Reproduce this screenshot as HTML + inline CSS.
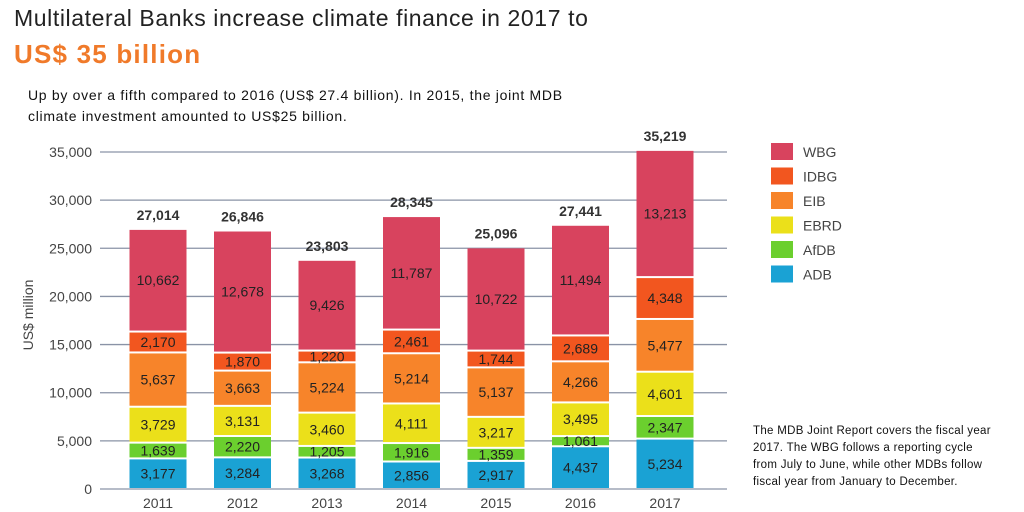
<!DOCTYPE html>
<html><head><meta charset="utf-8"><style>
body{margin:0;width:1024px;height:512px;background:#fff;overflow:hidden;font-family:"Liberation Sans",sans-serif;position:relative}
.t1{position:absolute;left:14px;top:5px;font-size:23px;letter-spacing:0.6px;color:#222}
.t2{position:absolute;left:14px;top:39px;font-size:26px;font-weight:bold;letter-spacing:1.2px;color:#f07a2a}
.sub{position:absolute;left:28px;top:85px;font-size:14px;letter-spacing:0.7px;line-height:21px;color:#111;white-space:nowrap}
.note{position:absolute;left:753px;top:423px;font-size:11.5px;letter-spacing:0.3px;line-height:17px;color:#111;white-space:nowrap}
</style></head><body>
<div class="t1">Multilateral Banks increase climate finance in 2017 to</div>
<div class="t2">US$ 35 billion</div>
<div class="sub">Up by over a fifth compared to 2016 (US$ 27.4 billion). In 2015, the joint MDB<br>climate investment amounted to US$25 billion.</div>
<div class="note">The MDB Joint Report covers the fiscal year<br>2017. The WBG follows a reporting cycle<br>from July to June, while other MDBs follow<br>fiscal year from January to December.</div>
<svg id="chart" width="1024" height="512" style="position:absolute;left:0;top:0"></svg>
<script>
const years=["2011","2012","2013","2014","2015","2016","2017"];
const series=["ADB","AfDB","EBRD","EIB","IDBG","WBG"];
const ADB=[3177,3284,3268,2856,2917,4437,5234];
const AfDB=[1639,2220,1205,1916,1359,1061,2347];
const EBRD=[3729,3131,3460,4111,3217,3495,4601];
const EIB=[5637,3663,5224,5214,5137,4266,5477];
const IDBG=[2170,1870,1220,2461,1744,2689,4348];
const WBG=[10662,12678,9426,11787,10722,11494,13213];
const totals=[27014,26846,23803,28345,25096,27441,35219];
const yTicks=[0,5000,10000,15000,20000,25000,30000,35000];
const colors=["#1aa2d4","#6bcf2e","#ebe01a","#f7842a","#f2561f","#d8435e"];
const data=[ADB,AfDB,EBRD,EIB,IDBG,WBG];
const NS="http://www.w3.org/2000/svg";
const svg=document.getElementById('chart');
const y0=489,pxPer=337/35000;
const Y=v=>y0-v*pxPer;
const X=i=>158+i*84.5;
const bw=57;
function mk(t,a,txt){const e=document.createElementNS(NS,t);for(const k in a)e.setAttribute(k,a[k]);if(txt!=null)e.textContent=txt;svg.appendChild(e);return e;}
const fmt=v=>v.toLocaleString('en-US');
yTicks.forEach(v=>{
  const l=mk('line',{x1:100,x2:727,y1:Y(v),y2:Y(v),stroke:'#8a93a6','stroke-width':1.3});
  
  
  const t=mk('text',{x:92,y:Y(v)+5,'text-anchor':'end','font-size':14,fill:'#444'},fmt(v));
  
  
});
const yt=mk('text',{x:0,y:0,transform:'translate(33,315) rotate(-90)','text-anchor':'middle','font-size':14,fill:'#444'},'US$ million');


years.forEach((yr,i)=>{
  let cum=0;
  data.forEach((arr,s)=>{
    const v=arr[i];const top=Y(cum+v),bot=Y(cum);
    const r=mk('rect',{x:X(i)-bw/2,y:top+1,width:bw,height:Math.max(0,bot-top-2),fill:colors[s]});
    
    
    const t=mk('text',{x:X(i),y:(top+bot)/2+5,'text-anchor':'middle','font-size':14,fill:'#222'},fmt(v));
    
    
    cum+=v;
  });
  const tt=mk('text',{x:X(i),y:Y(cum)-9,'text-anchor':'middle','font-size':14,'font-weight':'bold',fill:'#333'},fmt(totals[i]));
  
  
  const xl=mk('text',{x:X(i),y:508,'text-anchor':'middle','font-size':14,fill:'#444'},yr);
  
  
});
const legendOrder=[5,4,3,2,1,0];
legendOrder.forEach((s,k)=>{
  const y=143+k*24.5;
  const r=mk('rect',{x:771,y:y,width:22,height:17,fill:colors[s]});
  
  
  const t=mk('text',{x:803,y:y+14,'font-size':14,fill:'#444'},series[s]);
  
  
});
</script>
</body></html>
